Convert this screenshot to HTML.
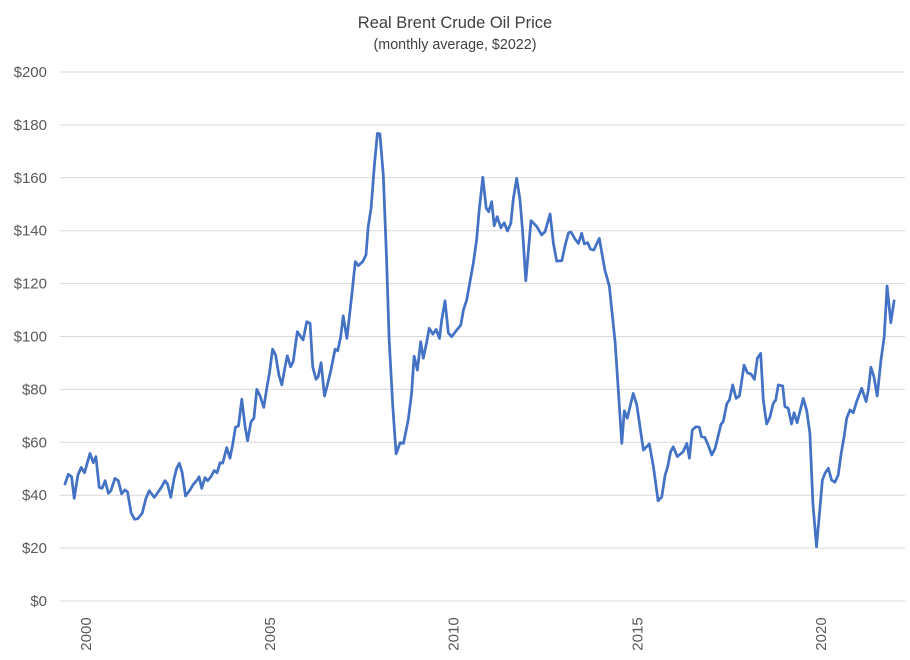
<!DOCTYPE html>
<html><head><meta charset="utf-8"><style>
html,body{margin:0;padding:0;background:#fff;}
svg{display:block;font-family:"Liberation Sans",Calibri,sans-serif;}
</style></head><body>
<svg id="chart" width="910" height="660" viewBox="0 0 910 660" xmlns="http://www.w3.org/2000/svg">
<rect x="0" y="0" width="910" height="660" fill="#fff"/>
<text x="455" y="28" text-anchor="middle" font-size="16.5" fill="#404040">Real Brent Crude Oil Price</text>
<text x="455" y="49" text-anchor="middle" font-size="14.3" fill="#404040">(monthly  average, $2022)</text>
<g id="grid"></g><g id="ylabels"></g><g id="xlabels"></g><g id="series"></g>
</svg>
<script>
const yTicks = [0,20,40,60,80,100,120,140,160,180,200];
const yTickLabels = ["$0","$20","$40","$60","$80","$100","$120","$140","$160","$180","$200"];
const xTicks = [2000,2005,2010,2015,2020];
const xTickLabels = ["2000","2005","2010","2015","2020"];
const dates = [2000.00,2000.09,2000.18,2000.25,2000.35,2000.44,2000.53,2000.68,2000.77,2000.84,2000.93,2001.01,2001.09,2001.18,2001.25,2001.36,2001.45,2001.54,2001.63,2001.70,2001.80,2001.89,2001.98,2002.10,2002.20,2002.29,2002.43,2002.54,2002.63,2002.72,2002.79,2002.88,2002.97,2003.04,2003.11,2003.19,2003.28,2003.40,2003.49,2003.61,2003.65,2003.72,2003.81,2003.88,2003.97,2004.06,2004.14,2004.22,2004.29,2004.40,2004.49,2004.56,2004.64,2004.72,2004.81,2004.90,2004.97,2005.06,2005.14,2005.22,2005.31,2005.41,2005.50,2005.56,2005.65,2005.73,2005.82,2005.90,2005.99,
2006.05,2006.14,2006.21,2006.32,2006.48,2006.58,2006.67,2006.74,2006.83,2006.89,2006.97,2007.06,2007.14,2007.24,2007.35,2007.42,2007.50,2007.57,2007.67,2007.80,2007.90,2007.98,2008.10,2008.19,2008.25,2008.33,2008.42,2008.50,2008.57,2008.66,2008.75,2008.82,2008.92,2009.01,2009.12,2009.21,2009.34,2009.43,2009.50,2009.59,2009.68,2009.75,2009.84,2009.91,2010.01,2010.10,2010.19,2010.25,2010.34,2010.43,2010.52,2010.66,2010.77,2010.84,2010.93,
2011.11,2011.20,2011.27,2011.37,2011.46,2011.53,2011.61,2011.68,2011.76,2011.86,2011.95,2012.04,2012.13,2012.20,2012.29,2012.38,2012.45,2012.54,2012.68,2012.84,2012.97,2013.06,2013.20,2013.29,2013.38,2013.52,2013.61,2013.70,2013.77,2013.88,2013.97,2014.06,2014.13,2014.22,2014.30,2014.39,2014.54,2014.69,2014.81,2014.97,2015.06,2015.15,2015.22,2015.30,2015.46,2015.56,
2015.74,2015.90,2016.01,2016.14,2016.24,2016.33,2016.40,2016.48,2016.55,2016.66,2016.82,2016.92,2016.99,2017.07,2017.17,2017.26,2017.32,2017.41,2017.50,2017.60,2017.69,2017.85,2017.91,2018.01,2018.08,2018.17,2018.26,2018.35,2018.48,2018.57,2018.67,2018.76,2018.84,2018.93,2019.00,2019.09,2019.18,2019.27,2019.34,2019.41,2019.53,2019.59,2019.68,2019.77,2019.84,2019.92,2020.09,2020.18,2020.27,2020.35,2020.45,2020.61,2020.68,2020.77,2020.86,2020.95,2021.04,2021.12,2021.20,2021.27,2021.36,2021.45,2021.54,2021.68,2021.80,2021.86,2021.93,2022.01,2022.10,2022.20,2022.29,2022.37,2022.47,2022.56];
const prices = [44.2,47.9,47,38.8,47.6,50.5,48.5,55.8,52.3,54.6,43,42.6,45.5,40.7,41.7,46.4,45.5,40.5,42,41.3,33.4,30.9,31.1,33.2,38.8,41.7,39.2,41.3,43.2,45.5,44.2,39.2,46.4,50.2,52.1,48.5,39.7,42,44.1,46,47,42.6,46.6,45.5,47,49.3,48.5,52.3,52.1,58,54,59,65.7,66.2,76.3,65.9,60.6,67.8,69.1,80,77.5,73.2,81.3,85.8,95.2,93,85.4,81.7,88.6,
92.7,88.6,90.5,101.8,98.7,105.6,105,88.6,83.8,84.8,90.1,77.5,81.7,87.6,95.2,94.6,99.7,107.8,99.3,115,128.3,126.8,128.3,130.8,141.5,148.5,164.8,176.8,176.6,161,128.9,99.3,73.5,55.6,59.9,59.6,68.4,78.5,92.6,87.3,98,91.8,97.7,103.1,100.9,102.7,99.3,106.2,113.5,101.4,99.9,102.5,104.3,110,113.8,
127.7,136.5,147.8,160.2,148.5,147.2,151,141.9,145.3,141.1,143,139.9,142.8,152.2,159.8,151.6,140.3,121.1,143.8,141.5,138.4,139.6,146.3,135.2,128.5,128.7,134.6,139.2,139.5,136.8,135.2,139,135,135.5,133,132.7,137.1,125.1,119.1,98,78.5,59.6,71.9,69.1,78.5,74.1,
57.1,59.4,50.8,37.9,39.4,47.6,50.8,56.4,58.3,54.6,56.4,59.6,54,64.7,65.9,65.7,62.1,61.9,59,55.2,57.7,66.8,67.8,74.7,76,81.7,76.6,77.5,89.2,86.3,85.8,83.8,91.8,93.6,76,66.9,69.5,74.7,76,81.7,81.3,73.5,72.9,66.9,71.2,67.4,76.6,72.2,63.4,36.9,20.5,45.7,48.3,50.2,45.7,44.9,47.6,55.8,62.1,69.1,72.2,71.2,75.4,80.4,75.4,79.8,88.4,84.8,77.5,90.9,99.9,119.1,105.2,113.5];

const NS = "http://www.w3.org/2000/svg";
const X0 = 65, PX_PER_YEAR = 36.75, Y0 = 601, PX_PER_UNIT = 2.645;
function xScale(t){ return X0 + (t - 2000) * PX_PER_YEAR; }
function yScale(v){ return Y0 - v * PX_PER_UNIT; }

const grid = document.getElementById('grid');
const yl = document.getElementById('ylabels');
yTicks.forEach((v,i)=>{
  const ln = document.createElementNS(NS,'line');
  ln.setAttribute('x1',60); ln.setAttribute('x2',905);
  ln.setAttribute('y1',yScale(v)); ln.setAttribute('y2',yScale(v));
  ln.setAttribute('stroke','#d9d9d9'); ln.setAttribute('stroke-width','1');
  
  
  grid.appendChild(ln);
  const tx = document.createElementNS(NS,'text');
  tx.setAttribute('x',47); tx.setAttribute('y',yScale(v)+5);
  tx.setAttribute('text-anchor','end'); tx.setAttribute('font-size','15'); tx.setAttribute('fill','#595959');
  tx.textContent = yTickLabels[i];
  
  
  yl.appendChild(tx);
});
const xl = document.getElementById('xlabels');
xTicks.forEach((t,i)=>{
  const cx = xScale(t) + 21.5, cy = 634;
  const tx = document.createElementNS(NS,'text');
  tx.setAttribute('x',cx); tx.setAttribute('y',cy);
  tx.setAttribute('text-anchor','middle'); tx.setAttribute('dominant-baseline','central');
  tx.setAttribute('font-size','15'); tx.setAttribute('fill','#595959');
  tx.setAttribute('transform','rotate(-90 '+cx+' '+cy+')');
  tx.textContent = xTickLabels[i];
  
  
  xl.appendChild(tx);
});
const d = dates.map((t,i)=>(i?'L':'M')+xScale(t).toFixed(1)+' '+yScale(prices[i]).toFixed(1)).join(' ');
const path = document.createElementNS(NS,'path');
path.setAttribute('d',d); path.setAttribute('fill','none');
path.setAttribute('stroke','#4472c4'); path.setAttribute('stroke-width','2.75');
path.setAttribute('stroke-linejoin','round'); path.setAttribute('stroke-linecap','round');


document.getElementById('series').appendChild(path);
</script>
</body></html>
